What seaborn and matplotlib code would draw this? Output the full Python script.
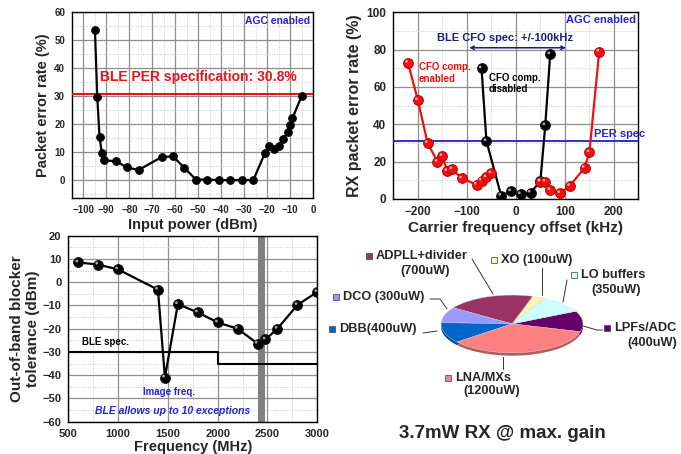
import matplotlib
matplotlib.use("Agg")
import matplotlib.pyplot as plt
import seaborn as sns
import pandas as pd
from matplotlib.ticker import MultipleLocator
from matplotlib.transforms import offset_copy
from matplotlib.patches import Rectangle
from matplotlib.colors import to_rgb

# --- top left: PER vs input power
pwr_dbm = [-95, -94, -93, -92, -91, -86, -81, -76, -66, -61, -56, -51, -46, -41,
           -36, -31, -26, -21, -19, -17, -15, -13, -11, -10, -9, -5]
pwr_per = [53.5, 29.8, 15.5, 9.6, 7.0, 6.8, 4.5, 3.6, 8.2, 8.5, 4.3, 0.2, 0.2, 0,
           0, 0, 0, 9.6, 12.0, 11.0, 12.3, 14.7, 17.2, 19.8, 22.0, 30.0]
per_spec = 30.8

# --- top right: PER vs carrier frequency offset
cfo_on_khz = [-220, -200, -180, -160, -150, -140, -130, -110, -80, -70, -60, -50,
              50, 60, 70, 90, 110, 140, 150, 170]
cfo_on_per = [73, 53, 30, 20, 23, 15, 16, 11, 7.7, 9.9, 11.6, 13.8,
              9.3, 9.3, 4.8, 3.2, 7.0, 16.7, 25, 79]
cfo_on_seg = [0] * 12 + [1] * 8
cfo_off_khz = [-70, -60, -30, -10, 10, 30, 50, 60, 70]
cfo_off_per = [70, 31, 1.8, 4.1, 2.6, 3.4, 9.5, 39.5, 77.5]

# --- bottom left: out-of-band blocker tolerance
blk_mhz = [600, 800, 1000, 1400, 1470, 1600, 1800, 2000, 2200, 2400, 2480, 2600, 2800, 3000]
blk_dbm = [8.5, 7.6, 5.5, -3.2, -41, -9.4, -13, -17.3, -20, -26.4, -24.6, -20, -9.8, -4.2]
spec_mhz = [500, 2000, 3000]
spec_dbm = [-30, -35, -35]

# --- bottom right: RX power breakdown
blocks = ["LPFs/ADC", "LO buffers", "XO", "ADPLL+divider", "DCO", "DBB", "LNA/MXs"]
power_uw = [400, 350, 100, 700, 300, 400, 1200]
block_colors = ["#660066", "#ccffff", "#f7f7b0", "#993366", "#9999ff", "#0066cc", "#ff8080"]

sns.set_style("white")
plt.rcParams['font.family'] = ['Liberation Sans', 'DejaVu Sans']
plt.rcParams['font.weight'] = 'bold'
plt.rcParams['axes.labelweight'] = 'bold'

RED = "#e8141a"
BLUE = "#2323d6"
NAVY = "#1c1c7a"

fig = plt.figure(figsize=(6.81, 4.54), dpi=100)
ax1 = fig.add_axes([0.1057, 0.5632, 0.354, 0.4104])
ax2 = fig.add_axes([0.5775, 0.5617, 0.36, 0.4112])
ax3 = fig.add_axes([0.1003, 0.0711, 0.3656, 0.4097])


def style_axes(ax, xmaj, xmin, ymaj, ymin, fs):
    ax.xaxis.set_major_locator(MultipleLocator(xmaj))
    ax.xaxis.set_minor_locator(MultipleLocator(xmin))
    ax.yaxis.set_major_locator(MultipleLocator(ymaj))
    ax.yaxis.set_minor_locator(MultipleLocator(ymin))
    ax.grid(which='major', color='#8f8f8f', lw=0.9, ls='-')
    ax.grid(which='minor', color='#cccccc', lw=0.7, ls=(0, (1, 1.5)))
    ax.set_axisbelow(True)
    ax.tick_params(which='major', direction='out', length=3, width=0.8,
                   labelsize=fs, pad=2)
    ax.tick_params(which='minor', length=0)
    for s in ax.spines.values():
        s.set_color('black')
        s.set_linewidth(1.0)


def shine(ax, x, y, s):
    tr = offset_copy(ax.transData, fig=fig, x=-1.0, y=1.0, units='points')
    sns.scatterplot(x=x, y=y, ax=ax, s=s, color='#d0d0d0', edgecolor='none',
                    alpha=0.8, transform=tr, zorder=6, legend=False)


# ---- panel 1
df1 = pd.DataFrame({'p': pwr_dbm, 'per': pwr_per})
sns.lineplot(data=df1, x='p', y='per', ax=ax1, color='black', lw=1.6, marker='o',
             markersize=5.5, markeredgecolor='black', estimator=None, sort=False, zorder=4)
ax1.axhline(per_spec, color=RED, lw=1.5, zorder=3)
ax1.set_xlim(-105, 0)
ax1.set_ylim(-6.5, 60)
style_axes(ax1, 10, 5, 10, 5, 7)
ax1.set_xlabel("Input power (dBm)", fontsize=10.5, labelpad=2)
ax1.set_ylabel("Packet error rate (%)", fontsize=10.5, labelpad=3)
ax1.text(-1.2, 56.8, "AGC enabled", color=BLUE, fontsize=7.5, ha='right', va='center')
ax1.text(-92.7, 36.7, "BLE PER specification: 30.8%", color=RED, fontsize=10,
         ha='left', va='center')

# ---- panel 2
df_on = pd.DataFrame({'f': cfo_on_khz, 'per': cfo_on_per, 'seg': cfo_on_seg})
df_off = pd.DataFrame({'f': cfo_off_khz, 'per': cfo_off_per})
sns.lineplot(data=df_off, x='f', y='per', ax=ax2, color='black', lw=1.6, marker='o',
             markersize=7, markeredgecolor='#111111', estimator=None, sort=False, zorder=4)
sns.lineplot(data=df_on, x='f', y='per', units='seg', ax=ax2, color='#f01010', lw=1.6,
             marker='o', markersize=7, markeredgecolor='#c00000', estimator=None,
             sort=False, zorder=5)
shine(ax2, cfo_on_khz, cfo_on_per, 4)
shine(ax2, cfo_off_khz, cfo_off_per, 4)
ax2.axhline(30.8, color='#1f1fd0', lw=1.3, zorder=3)
ax2.set_xlim(-250, 250)
ax2.set_ylim(0, 100)
style_axes(ax2, 100, 50, 20, 10, 8.5)
ax2.set_xlabel("Carrier frequency offset (kHz)", fontsize=11, labelpad=2)
ax2.set_ylabel("RX packet error rate (%)", fontsize=11.5, labelpad=3)
ax2.text(245, 95.9, "AGC enabled", color=BLUE, fontsize=8, ha='right', va='center')
ax2.text(-22, 86.5, "BLE CFO spec: +/-100kHz", color=NAVY, fontsize=8, ha='center', va='center')
ax2.annotate('', xy=(-95, 81), xytext=(102, 81),
             arrowprops=dict(arrowstyle='<->', color=NAVY, lw=1.1, shrinkA=0, shrinkB=0,
                             mutation_scale=6))
ax2.text(-198, 70.8, "CFO comp.", color=RED, fontsize=7, ha='left', va='center')
ax2.text(-198, 64.5, "enabled", color=RED, fontsize=7, ha='left', va='center')
ax2.text(-55, 65, "CFO comp.", color='black', fontsize=7, ha='left', va='center')
ax2.text(-55, 58.8, "disabled", color='black', fontsize=7, ha='left', va='center')
ax2.text(159, 35, "PER spec", color=BLUE, fontsize=8, ha='left', va='center')

# ---- panel 3
df3 = pd.DataFrame({'f': blk_mhz, 'tol': blk_dbm})
dfs = pd.DataFrame({'f': spec_mhz, 'tol': spec_dbm})
ax3.axvspan(2400, 2480, color='#808080', zorder=2, lw=0)
sns.lineplot(data=dfs, x='f', y='tol', ax=ax3, color='black', lw=1.5,
             drawstyle='steps-post', estimator=None, zorder=3)
sns.lineplot(data=df3, x='f', y='tol', ax=ax3, color='black', lw=1.6, marker='o',
             markersize=7, markeredgecolor='#111111', estimator=None, sort=False, zorder=4)
shine(ax3, blk_mhz, blk_dbm, 4)
ax3.set_xlim(500, 3000)
ax3.set_ylim(-60, 20)
style_axes(ax3, 500, 250, 10, 5, 8)
ax3.set_xlabel("Frequency (MHz)", fontsize=10.5, labelpad=1)
ax3.set_ylabel("Out-of-band blocker\ntolerance (dBm)", fontsize=11, labelpad=2,
               linespacing=1.1)
ax3.text(634, -25.9, "BLE spec.", color='black', fontsize=7, ha='left', va='center')
ax3.text(1511, -47.1, "Image freq.", color=BLUE, fontsize=7, ha='center', va='center')
ax3.text(1548, -55.3, "BLE allows up to 10 exceptions", color=BLUE, fontsize=7.5,
         style='italic', ha='center', va='center')

# ---- panel 4: squashed pie with a shallow side wall
axp = fig.add_axes([0.6476, 0.2070, 0.2085, 0.1432])


def darker(c, f=0.7):
    r, g, b = to_rgb(c)
    return (r * f, g * f, b * f)


start = -15.7
axp.pie(power_uw, colors=[darker(c) for c in block_colors], startangle=start,
        center=(0, -0.1), radius=1.0, wedgeprops=dict(lw=0))
axp.pie(power_uw, colors=block_colors, startangle=start, center=(0, 0), radius=1.0,
        wedgeprops=dict(lw=0.3, edgecolor='#e0e0e0'))
axp.set_aspect('auto')
axp.set_xlim(-1.0, 1.0)
axp.set_ylim(-1.25, 1.0)
axp.axis('off')

# labels for the pie, placed in figure pixels
axo = fig.add_axes([0, 0, 1, 1], zorder=10)
axo.set_xlim(0, 681)
axo.set_ylim(454, 0)
axo.axis('off')
axo.patch.set_alpha(0)

lab_fs = 9.2
pie_labels = [
    # name, square x, y, second line, second x, second y
    ("ADPLL+divider", 369, 256, "(700uW)", 425, 271),
    ("XO (100uW)", 494, 260, None, 0, 0),
    ("LO buffers", 574, 275, "(350uW)", 616, 290),
    ("DCO (300uW)", 336, 297, None, 0, 0),
    ("DBB(400uW)", 332, 329, None, 0, 0),
    ("LPFs/ADC", 607, 328, "(400uW)", 652, 343),
    ("LNA/MXs", 448, 378, "(1200uW)", 492, 391),
]
color_of = {"ADPLL+divider": "#993366", "XO (100uW)": "#f7f7b0", "LO buffers": "#ccffff",
            "DCO (300uW)": "#9999ff", "DBB(400uW)": "#0066cc", "LPFs/ADC": "#660066",
            "LNA/MXs": "#ff8080"}
for name, sx, sy, l2, x2, y2 in pie_labels:
    axo.add_patch(Rectangle((sx - 3, sy - 3), 6, 6, facecolor=color_of[name],
                            edgecolor='#404040', lw=0.5))
    axo.text(sx + 7, sy, name, fontsize=lab_fs, ha='left', va='center')
    if l2:
        axo.text(x2, y2, l2, fontsize=lab_fs, ha='center', va='center')

leaders = [
    ([472, 493], [259, 294]),
    ([542, 542], [268, 295]),
    ([567, 563], [280, 302]),
    ([430, 440, 447], [299, 299, 309]),
    ([423, 437], [333, 331]),
    ([583, 597, 603], [326, 330, 330]),
    ([503, 503], [357, 369]),
]
for lx, ly in leaders:
    axo.plot(lx, ly, color='#333333', lw=0.7)

axo.text(502, 433, "3.7mW RX @ max. gain", fontsize=13.5, ha='center', va='center')

fig.savefig("out.png", dpi=100)
